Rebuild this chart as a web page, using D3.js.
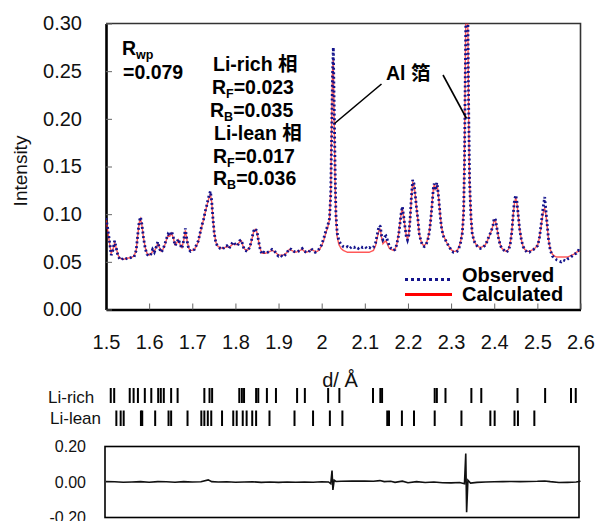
<!DOCTYPE html>
<html>
<head>
<meta charset="utf-8">
<script src="https://cdn.jsdelivr.net/npm/d3@7"></script>
<style>
    body { margin: 0; background: #fff; }
    svg { display: block; font-family: "Liberation Sans", Arial, "Noto Sans CJK JP", sans-serif; }
</style>
</head>
<body>
<svg id="xrd" width="598" height="521"></svg>
<script>
(function () {
    'use strict';

    // d-spacing grid (Å) shared by observed and calculated profiles
    var dValues = [
        1.500, 1.504, 1.508, 1.512, 1.516, 1.520, 1.524, 1.528, 1.532, 1.536, 1.540, 1.545, 1.550, 1.555, 1.560, 1.565,
        1.570, 1.574, 1.577, 1.580, 1.583, 1.587, 1.591, 1.595, 1.600, 1.604, 1.608, 1.612, 1.616, 1.620, 1.624, 1.628,
        1.632, 1.636, 1.640, 1.644, 1.648, 1.652, 1.656, 1.660, 1.664, 1.668, 1.672, 1.676, 1.680, 1.684, 1.688, 1.692,
        1.696, 1.700, 1.705, 1.710, 1.714, 1.718, 1.722, 1.726, 1.730, 1.734, 1.738, 1.742, 1.745, 1.748, 1.751, 1.755,
        1.760, 1.765, 1.770, 1.775, 1.780, 1.785, 1.790, 1.795, 1.800, 1.805, 1.810, 1.814, 1.818, 1.822, 1.828, 1.834,
        1.838, 1.842, 1.846, 1.850, 1.854, 1.858, 1.862, 1.866, 1.870, 1.875, 1.880, 1.885, 1.890, 1.895, 1.900, 1.905,
        1.910, 1.915, 1.920, 1.925, 1.930, 1.935, 1.940, 1.945, 1.950, 1.955, 1.960, 1.965, 1.970, 1.975, 1.980, 1.985,
        1.990, 1.995, 2.000, 2.005, 2.010, 2.014, 2.018, 2.021, 2.023, 2.025, 2.027, 2.029, 2.031, 2.033, 2.036, 2.040,
        2.045, 2.050, 2.055, 2.060, 2.065, 2.070, 2.075, 2.080, 2.085, 2.090, 2.095, 2.100, 2.105, 2.110, 2.115, 2.120,
        2.125, 2.129, 2.133, 2.136, 2.139, 2.142, 2.146, 2.149, 2.153, 2.157, 2.161, 2.166, 2.170, 2.174, 2.178, 2.181,
        2.184, 2.187, 2.190, 2.193, 2.196, 2.199, 2.202, 2.205, 2.208, 2.211, 2.214, 2.217, 2.220, 2.223, 2.226, 2.230,
        2.234, 2.238, 2.242, 2.246, 2.250, 2.253, 2.256, 2.259, 2.261, 2.263, 2.265, 2.267, 2.269, 2.272, 2.275, 2.278,
        2.282, 2.286, 2.290, 2.294, 2.298, 2.302, 2.306, 2.310, 2.314, 2.318, 2.322, 2.326, 2.329, 2.331, 2.333, 2.335,
        2.337, 2.339, 2.341, 2.343, 2.346, 2.349, 2.353, 2.358, 2.363, 2.368, 2.373, 2.378, 2.383, 2.388, 2.393, 2.397,
        2.400, 2.403, 2.406, 2.410, 2.414, 2.418, 2.423, 2.428, 2.433, 2.437, 2.441, 2.444, 2.447, 2.450, 2.453, 2.456,
        2.459, 2.463, 2.467, 2.471, 2.476, 2.481, 2.486, 2.491, 2.496, 2.501, 2.505, 2.509, 2.512, 2.515, 2.517, 2.520,
        2.523, 2.526, 2.530, 2.535, 2.540, 2.545, 2.550, 2.555, 2.560, 2.565, 2.570, 2.575, 2.580, 2.585, 2.590, 2.595,
        2.600
    ];

    var observed = [
        0.096, 0.085, 0.072, 0.057, 0.062, 0.072, 0.064, 0.056, 0.053, 0.052, 0.054, 0.053, 0.054, 0.054, 0.055, 0.055,
        0.062, 0.080, 0.092, 0.097, 0.090, 0.075, 0.064, 0.058, 0.056, 0.058, 0.063, 0.060, 0.065, 0.071, 0.064, 0.060,
        0.063, 0.068, 0.074, 0.079, 0.077, 0.082, 0.076, 0.067, 0.070, 0.074, 0.068, 0.064, 0.072, 0.085, 0.072, 0.063,
        0.061, 0.062, 0.063, 0.068, 0.072, 0.080, 0.088, 0.094, 0.103, 0.110, 0.118, 0.124, 0.114, 0.095, 0.080, 0.069,
        0.066, 0.064, 0.063, 0.066, 0.067, 0.064, 0.068, 0.071, 0.068, 0.067, 0.072, 0.073, 0.066, 0.062, 0.061, 0.066,
        0.074, 0.082, 0.085, 0.082, 0.071, 0.062, 0.058, 0.060, 0.059, 0.060, 0.061, 0.063, 0.062, 0.058, 0.056, 0.057,
        0.055, 0.057, 0.060, 0.064, 0.063, 0.061, 0.060, 0.061, 0.062, 0.064, 0.061, 0.060, 0.060, 0.064, 0.062, 0.060,
        0.061, 0.064, 0.068, 0.075, 0.083, 0.088, 0.095, 0.120, 0.180, 0.245, 0.275, 0.215, 0.150, 0.100, 0.080, 0.072,
        0.068, 0.066, 0.065, 0.066, 0.064, 0.066, 0.065, 0.066, 0.064, 0.066, 0.065, 0.066, 0.064, 0.065, 0.064, 0.065,
        0.070, 0.079, 0.088, 0.087, 0.077, 0.073, 0.076, 0.077, 0.072, 0.066, 0.064, 0.062, 0.063, 0.068, 0.077, 0.088,
        0.100, 0.108, 0.098, 0.087, 0.077, 0.073, 0.078, 0.095, 0.118, 0.136, 0.132, 0.120, 0.106, 0.095, 0.080, 0.072,
        0.067, 0.066, 0.068, 0.073, 0.082, 0.095, 0.110, 0.128, 0.132, 0.125, 0.129, 0.133, 0.127, 0.113, 0.097, 0.085,
        0.077, 0.074, 0.070, 0.067, 0.064, 0.061, 0.060, 0.060, 0.061, 0.064, 0.070, 0.080, 0.100, 0.150, 0.250, 0.340,
        0.350, 0.300, 0.200, 0.133, 0.098, 0.080, 0.072, 0.068, 0.065, 0.064, 0.065, 0.067, 0.071, 0.077, 0.082, 0.088,
        0.096, 0.094, 0.086, 0.075, 0.067, 0.064, 0.062, 0.060, 0.062, 0.068, 0.082, 0.100, 0.115, 0.120, 0.112, 0.097,
        0.084, 0.073, 0.066, 0.063, 0.060, 0.060, 0.062, 0.063, 0.065, 0.067, 0.076, 0.090, 0.102, 0.112, 0.118, 0.103,
        0.088, 0.073, 0.062, 0.056, 0.054, 0.052, 0.051, 0.050, 0.052, 0.051, 0.053, 0.054, 0.056, 0.058, 0.059, 0.062,
        0.061
    ];

    var calculated = [
        0.094, 0.083, 0.070, 0.059, 0.063, 0.070, 0.064, 0.057, 0.054, 0.053, 0.053, 0.053, 0.054, 0.054, 0.055, 0.056,
        0.062, 0.079, 0.091, 0.095, 0.089, 0.075, 0.065, 0.059, 0.057, 0.058, 0.061, 0.061, 0.065, 0.069, 0.065, 0.061,
        0.063, 0.067, 0.073, 0.078, 0.077, 0.080, 0.075, 0.068, 0.070, 0.073, 0.068, 0.065, 0.072, 0.083, 0.072, 0.064,
        0.062, 0.062, 0.063, 0.067, 0.071, 0.079, 0.087, 0.094, 0.102, 0.109, 0.116, 0.121, 0.113, 0.095, 0.080, 0.070,
        0.066, 0.065, 0.064, 0.065, 0.066, 0.065, 0.067, 0.069, 0.068, 0.068, 0.071, 0.072, 0.066, 0.063, 0.062, 0.066,
        0.073, 0.081, 0.084, 0.081, 0.071, 0.063, 0.059, 0.059, 0.059, 0.060, 0.061, 0.062, 0.061, 0.059, 0.057, 0.057,
        0.057, 0.058, 0.060, 0.063, 0.062, 0.061, 0.060, 0.061, 0.062, 0.063, 0.061, 0.060, 0.061, 0.063, 0.062, 0.061,
        0.061, 0.063, 0.067, 0.073, 0.081, 0.086, 0.094, 0.125, 0.190, 0.250, 0.262, 0.200, 0.135, 0.095, 0.076, 0.068,
        0.064, 0.062, 0.061, 0.060, 0.060, 0.060, 0.060, 0.060, 0.060, 0.060, 0.060, 0.060, 0.060, 0.060, 0.061, 0.062,
        0.067, 0.076, 0.083, 0.084, 0.075, 0.069, 0.071, 0.072, 0.068, 0.064, 0.063, 0.062, 0.063, 0.068, 0.078, 0.089,
        0.100, 0.106, 0.098, 0.087, 0.078, 0.074, 0.079, 0.095, 0.117, 0.133, 0.131, 0.120, 0.106, 0.094, 0.080, 0.072,
        0.068, 0.067, 0.069, 0.074, 0.083, 0.096, 0.112, 0.127, 0.131, 0.126, 0.128, 0.131, 0.126, 0.113, 0.098, 0.086,
        0.078, 0.074, 0.070, 0.067, 0.064, 0.062, 0.061, 0.061, 0.062, 0.065, 0.071, 0.082, 0.104, 0.160, 0.260, 0.345,
        0.345, 0.290, 0.190, 0.130, 0.096, 0.080, 0.072, 0.068, 0.066, 0.065, 0.066, 0.067, 0.071, 0.076, 0.082, 0.088,
        0.094, 0.093, 0.086, 0.076, 0.068, 0.064, 0.062, 0.061, 0.063, 0.069, 0.083, 0.099, 0.112, 0.117, 0.110, 0.097,
        0.084, 0.073, 0.066, 0.063, 0.061, 0.061, 0.062, 0.063, 0.065, 0.068, 0.076, 0.088, 0.098, 0.105, 0.106, 0.099,
        0.086, 0.073, 0.063, 0.058, 0.056, 0.055, 0.055, 0.055, 0.055, 0.055, 0.055, 0.056, 0.057, 0.058, 0.060, 0.061,
        0.061
    ];

    // difference curve (obs - calc) for the lower panel
    var diffD = [
        1.500, 1.520, 1.540, 1.560, 1.580, 1.600, 1.620, 1.640, 1.660, 1.680, 1.700, 1.720, 1.737, 1.745, 1.760, 1.780,
        1.800, 1.820, 1.840, 1.860, 1.880, 1.900, 1.920, 1.940, 1.960, 1.980, 2.000, 2.016, 2.021, 2.024, 2.026, 2.029,
        2.033, 2.045, 2.070, 2.100, 2.120, 2.135, 2.145, 2.160, 2.170, 2.187, 2.200, 2.220, 2.240, 2.260, 2.280, 2.300,
        2.320, 2.331, 2.334, 2.336, 2.339, 2.345, 2.360, 2.380, 2.400, 2.420, 2.440, 2.460, 2.480, 2.500, 2.517, 2.530,
        2.550, 2.570, 2.590, 2.600
    ];
    var diffValues = [
        0.002, 0.001, -0.001, 0.000, 0.002, -0.001, 0.002, 0.001, -0.001, 0.002, 0.000, 0.001, 0.012, 0.002, 0.000, 0.001,
        -0.001, 0.000, 0.001, -0.002, 0.000, -0.002, 0.000, -0.001, 0.000, -0.001, 0.001, 0.000, -0.010, 0.065, -0.045, 0.010,
        0.003, 0.004, 0.005, 0.005, 0.004, 0.008, 0.002, 0.004, -0.002, 0.005, -0.004, 0.002, -0.003, 0.000, -0.004, -0.005,
        -0.003, -0.010, 0.160, -0.170, 0.010, -0.006, -0.002, 0.000, 0.001, 0.002, 0.003, 0.002, 0.003, 0.004, 0.006, 0.002,
        -0.003, -0.002, 0.000, 0.004
    ];

    // Bragg reflection positions (Å)
    var liRichPeaks = [
        1.511, 1.519, 1.555, 1.564, 1.574, 1.590, 1.605, 1.621, 1.627, 1.634, 1.651, 1.666, 1.728, 1.740, 1.746, 1.809,
        1.815, 1.820, 1.848, 1.853, 1.873, 1.894, 1.943, 1.961, 2.015, 2.041, 2.119, 2.136, 2.140, 2.262, 2.267, 2.287,
        2.347, 2.370, 2.454, 2.518, 2.578, 2.589
    ];
    var liLeanPeaks = [
        1.524, 1.534, 1.541, 1.581, 1.584, 1.614, 1.645, 1.651, 1.689, 1.721, 1.728, 1.736, 1.744, 1.769, 1.795, 1.803,
        1.817, 1.826, 1.839, 1.848, 1.879, 1.937, 1.980, 2.019, 2.048, 2.152, 2.156, 2.186, 2.214, 2.262, 2.324, 2.391,
        2.401, 2.447, 2.455, 2.493
    ];

    var xTicks = [1.5, 1.6, 1.7, 1.8, 1.9, 2.0, 2.1, 2.2, 2.3, 2.4, 2.5, 2.6];
    var xTickLabels = ["1.5", "1.6", "1.7", "1.8", "1.9", "2", "2.1", "2.2", "2.3", "2.4", "2.5", "2.6"];
    var yTicks = [0, 0.05, 0.10, 0.15, 0.20, 0.25, 0.30];
    var diffTicks = [-0.2, 0, 0.2];
    var diffTickLabels = ["-0.20", "0.00", "0.20"];

    var vm = {};
    vm.svg = d3.select("svg#xrd");
    vm.font = '"Liberation Sans", Arial, "Noto Sans CJK JP", sans-serif';

    setUpScales();
    drawMainAxes();
    drawProfiles();
    drawAnnotations();
    drawLegend();
    drawReflections();
    drawDifference();

    function setUpScales() {
        vm.x = d3.scaleLinear().domain([1.5, 2.6]).range([106, 580.5]);
        vm.y = d3.scaleLinear().domain([0, 0.30]).range([309.5, 23.5]);
        vm.yDiff = d3.scaleLinear().domain([-0.2, 0.2]).range([517.5, 446.5]);
    }

    function drawMainAxes() {
        // thin top / right frame
        vm.svg.append("path")
            .attr("d", "M" + vm.x(1.5) + "," + vm.y(0.30) + "H" + vm.x(2.6) + "V" + vm.y(0))
            .attr("fill", "none")
            .attr("stroke", "#333")
            .attr("stroke-width", 1.6);

        var xAxis = vm.svg.append("g")
            .attr("class", "axis axis--x")
            .attr("transform", "translate(0," + vm.y(0) + ")")
            .call(d3.axisBottom(vm.x)
                .tickValues(xTicks)
                .tickFormat(function (d, i) { return xTickLabels[i]; })
                .tickSizeInner(-6).tickSizeOuter(0).tickPadding(25));

        var yAxis = vm.svg.append("g")
            .attr("class", "axis axis--y")
            .attr("transform", "translate(" + vm.x(1.5) + ",0)")
            .call(d3.axisLeft(vm.y)
                .tickValues(yTicks)
                .tickFormat(d3.format(".2f"))
                .tickSizeInner(-6).tickSizeOuter(0).tickPadding(24));

        [xAxis, yAxis].forEach(function (a) {
            a.select(".domain").attr("stroke", "#000").attr("stroke-width", 2.6);
            a.selectAll(".tick line").attr("stroke", "#666").attr("stroke-width", 1);
            a.selectAll(".tick text")
                .attr("fill", "#111")
                .style("font", "20px " + vm.font);
        });

        vm.svg.append("text")
            .attr("transform", "translate(27,171) rotate(-90)")
            .attr("text-anchor", "middle")
            .style("font", "19px " + vm.font)
            .attr("fill", "#111")
            .text("Intensity");

        vm.svg.append("text")
            .attr("x", 340)
            .attr("y", 387)
            .attr("text-anchor", "middle")
            .style("font", "20px " + vm.font)
            .attr("fill", "#111")
            .text("d/ Å");
    }

    function drawProfiles() {
        vm.svg.append("clipPath")
            .attr("id", "plot-clip")
            .append("rect")
            .attr("x", vm.x(1.5))
            .attr("y", vm.y(0.30))
            .attr("width", vm.x(2.6) - vm.x(1.5))
            .attr("height", vm.y(0) - vm.y(0.30));

        var line = d3.line()
            .x(function (d) { return vm.x(d[0]); })
            .y(function (d) { return vm.y(d[1]); });

        var calcPts = dValues.map(function (d, i) { return [d, calculated[i]]; });
        var obsPts = dValues.map(function (d, i) { return [d, observed[i]]; });

        var g = vm.svg.append("g").attr("clip-path", "url(#plot-clip)");

        g.append("path")
            .attr("d", line(calcPts))
            .attr("fill", "none")
            .attr("stroke", "#ff2020")
            .attr("stroke-opacity", 0.75)
            .attr("stroke-width", 1.4);

        g.append("path")
            .attr("d", line(obsPts))
            .attr("fill", "none")
            .attr("stroke", "#14148c")
            .attr("stroke-width", 2.8)
            .attr("stroke-dasharray", "2,2.6");
    }

    function subText(x, y, main, sub, rest) {
        var t = vm.svg.append("text")
            .attr("x", x)
            .attr("y", y)
            .attr("fill", "#000")
            .style("font", "bold 19.5px " + vm.font);
        t.append("tspan").text(main);
        t.append("tspan").attr("dy", 4).style("font-size", "12.5px").text(sub);
        if (rest) t.append("tspan").attr("dy", -4).text(rest);
        return t;
    }

    function plainBold(x, y, s) {
        vm.svg.append("text")
            .attr("x", x)
            .attr("y", y)
            .attr("fill", "#000")
            .style("font", "bold 19.5px " + vm.font)
            .text(s);
    }

    function drawAnnotations() {
        subText(122, 55, "R", "wp");
        plainBold(123, 79, "=0.079");

        plainBold(213, 71, "Li-rich 相");
        subText(212, 94, "R", "F", "=0.023");
        subText(210, 117, "R", "B", "=0.035");
        plainBold(214, 140, "Li-lean 相");
        subText(213, 163, "R", "F", "=0.017");
        subText(213, 185, "R", "B", "=0.036");

        plainBold(386, 80, "Al 箔");

        vm.svg.append("line")
            .attr("x1", 381.5).attr("y1", 84)
            .attr("x2", 334.5).attr("y2", 123.5)
            .attr("stroke", "#000").attr("stroke-width", 1.6);
        vm.svg.append("line")
            .attr("x1", 443).attr("y1", 75)
            .attr("x2", 466.5).attr("y2", 118.5)
            .attr("stroke", "#000").attr("stroke-width", 1.6);
    }

    function drawLegend() {
        vm.svg.append("line")
            .attr("x1", 405).attr("y1", 279.5)
            .attr("x2", 452).attr("y2", 279.5)
            .attr("stroke", "#14148c")
            .attr("stroke-width", 3.2)
            .attr("stroke-dasharray", "3,3");
        vm.svg.append("line")
            .attr("x1", 405).attr("y1", 294.5)
            .attr("x2", 452).attr("y2", 294.5)
            .attr("stroke", "#ff0000")
            .attr("stroke-width", 3);

        vm.svg.append("text")
            .attr("x", 462).attr("y", 282)
            .style("font", "bold 20px " + vm.font)
            .attr("fill", "#000")
            .text("Observed");
        vm.svg.append("text")
            .attr("x", 462).attr("y", 301)
            .style("font", "bold 20px " + vm.font)
            .attr("fill", "#000")
            .text("Calculated");
    }

    function drawReflections() {
        var rows = [
            {id: "Li-rich", peaks: liRichPeaks, y0: 388, y1: 403, labelX: 48, labelY: 403},
            {id: "Li-lean", peaks: liLeanPeaks, y0: 410.5, y1: 426, labelX: 50, labelY: 424}
        ];

        var row = vm.svg.selectAll(".reflections")
            .data(rows)
            .enter().append("g")
            .attr("class", "reflections");

        row.selectAll("line")
            .data(function (r) {
                return r.peaks.map(function (p) { return {d: p, y0: r.y0, y1: r.y1}; });
            })
            .enter().append("line")
            .attr("x1", function (d) { return vm.x(d.d); })
            .attr("x2", function (d) { return vm.x(d.d); })
            .attr("y1", function (d) { return d.y0; })
            .attr("y2", function (d) { return d.y1; })
            .attr("stroke", "#000")
            .attr("stroke-width", 2);

        row.append("text")
            .attr("x", function (r) { return r.labelX; })
            .attr("y", function (r) { return r.labelY; })
            .style("font", "17px " + vm.font)
            .attr("fill", "#111")
            .text(function (r) { return r.id; });
    }

    function drawDifference() {
        vm.svg.append("rect")
            .attr("x", 105)
            .attr("y", vm.yDiff(0.2))
            .attr("width", 474)
            .attr("height", vm.yDiff(-0.2) - vm.yDiff(0.2))
            .attr("fill", "none")
            .attr("stroke", "#000")
            .attr("stroke-width", 1.6);

        var axis = vm.svg.append("g")
            .attr("transform", "translate(105,0)")
            .call(d3.axisLeft(vm.yDiff)
                .tickValues(diffTicks)
                .tickFormat(function (d, i) { return diffTickLabels[i]; })
                .tickSize(0).tickPadding(19));
        axis.select(".domain").remove();
        axis.selectAll(".tick text")
            .attr("fill", "#111")
            .style("font", "16px " + vm.font);

        var line = d3.line()
            .x(function (d) { return vm.x(d[0]); })
            .y(function (d) { return vm.yDiff(d[1]); });

        vm.svg.append("path")
            .attr("d", line(diffD.map(function (d, i) { return [d, diffValues[i]]; })))
            .attr("fill", "none")
            .attr("stroke", "#111")
            .attr("stroke-width", 1.6);
    }

})();
</script>
</body>
</html>
